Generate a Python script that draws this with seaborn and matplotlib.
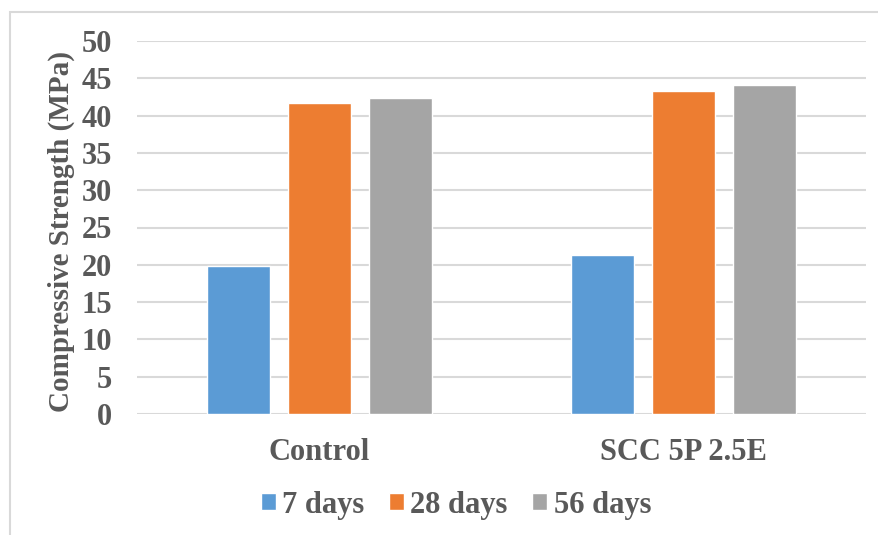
import matplotlib
matplotlib.use("Agg")
import matplotlib.pyplot as plt
from matplotlib.patches import Rectangle
import seaborn as sns
import pandas as pd

mixes = ["Control", "SCC 5P 2.5E"]
ages = ["7 days", "28 days", "56 days"]
strength_7 = [19.8, 21.3]
strength_28 = [41.7, 43.3]
strength_56 = [42.4, 44.1]
colors = ["#5B9BD5", "#ED7D31", "#A5A5A5"]
yticks = [0, 5, 10, 15, 20, 25, 30, 35, 40, 45, 50]

rows = []
for age, vals in zip(ages, [strength_7, strength_28, strength_56]):
    for mix, v in zip(mixes, vals):
        rows.append({"Mix": mix, "Age": age, "Strength": v})
df = pd.DataFrame(rows)

sns.set_theme(style="white")
plt.rcParams["font.family"] = ["Liberation Serif", "DejaVu Serif"]
plt.rcParams["font.weight"] = "bold"
text_color = "#595959"
fs = 22

fig = plt.figure(figsize=(8.79, 5.35), dpi=100)
ax = fig.add_axes([137 / 879, 1 - 414 / 535, (866 - 137) / 879, (414 - 41) / 535])

sns.barplot(data=df, x="Mix", y="Strength", hue="Age", order=mixes,
            hue_order=ages, palette=colors, width=0.667, gap=0.22,
            saturation=1, ax=ax, legend=True, zorder=3)

ax.set_ylim(0, 50)
ax.set_yticks(yticks)
ax.yaxis.grid(True, color="#D9D9D9", linewidth=1.5, zorder=0)
ax.set_axisbelow(True)
for s in ax.spines.values():
    s.set_visible(False)
ax.tick_params(axis="y", length=0, pad=18, labelsize=fs, labelcolor=text_color)
ax.tick_params(axis="x", length=0, pad=17, labelsize=fs, labelcolor=text_color)
for lbl in ax.get_xticklabels() + ax.get_yticklabels():
    lbl.set_fontweight("bold")
ax.set_xlabel("")
ax.set_ylabel("Compressive Strength (MPa)", fontsize=21, fontweight="bold",
              color=text_color)
ax.yaxis.set_label_coords(-(137 - 75) / 729, (414 - 231) / 373)

handles, labels = ax.get_legend_handles_labels()
ax.get_legend().remove()
leg = fig.legend(handles, labels, loc="center", bbox_to_anchor=(456 / 879, 1 - 505 / 535),
                 ncol=3, frameon=False, handlelength=0.5, handleheight=0.5,
                 handletextpad=0.2, columnspacing=0.8,
                 prop={"size": fs, "weight": "bold"})
for t in leg.get_texts():
    t.set_color(text_color)

# chart frame: left and top edges
fig.patches.append(Rectangle((10 / 879, -0.1), 1.2, 1 - 12 / 535 + 0.1,
                             transform=fig.transFigure, fill=False,
                             edgecolor="#D9D9D9", linewidth=1.5))

fig.savefig("out.png", dpi=100)
